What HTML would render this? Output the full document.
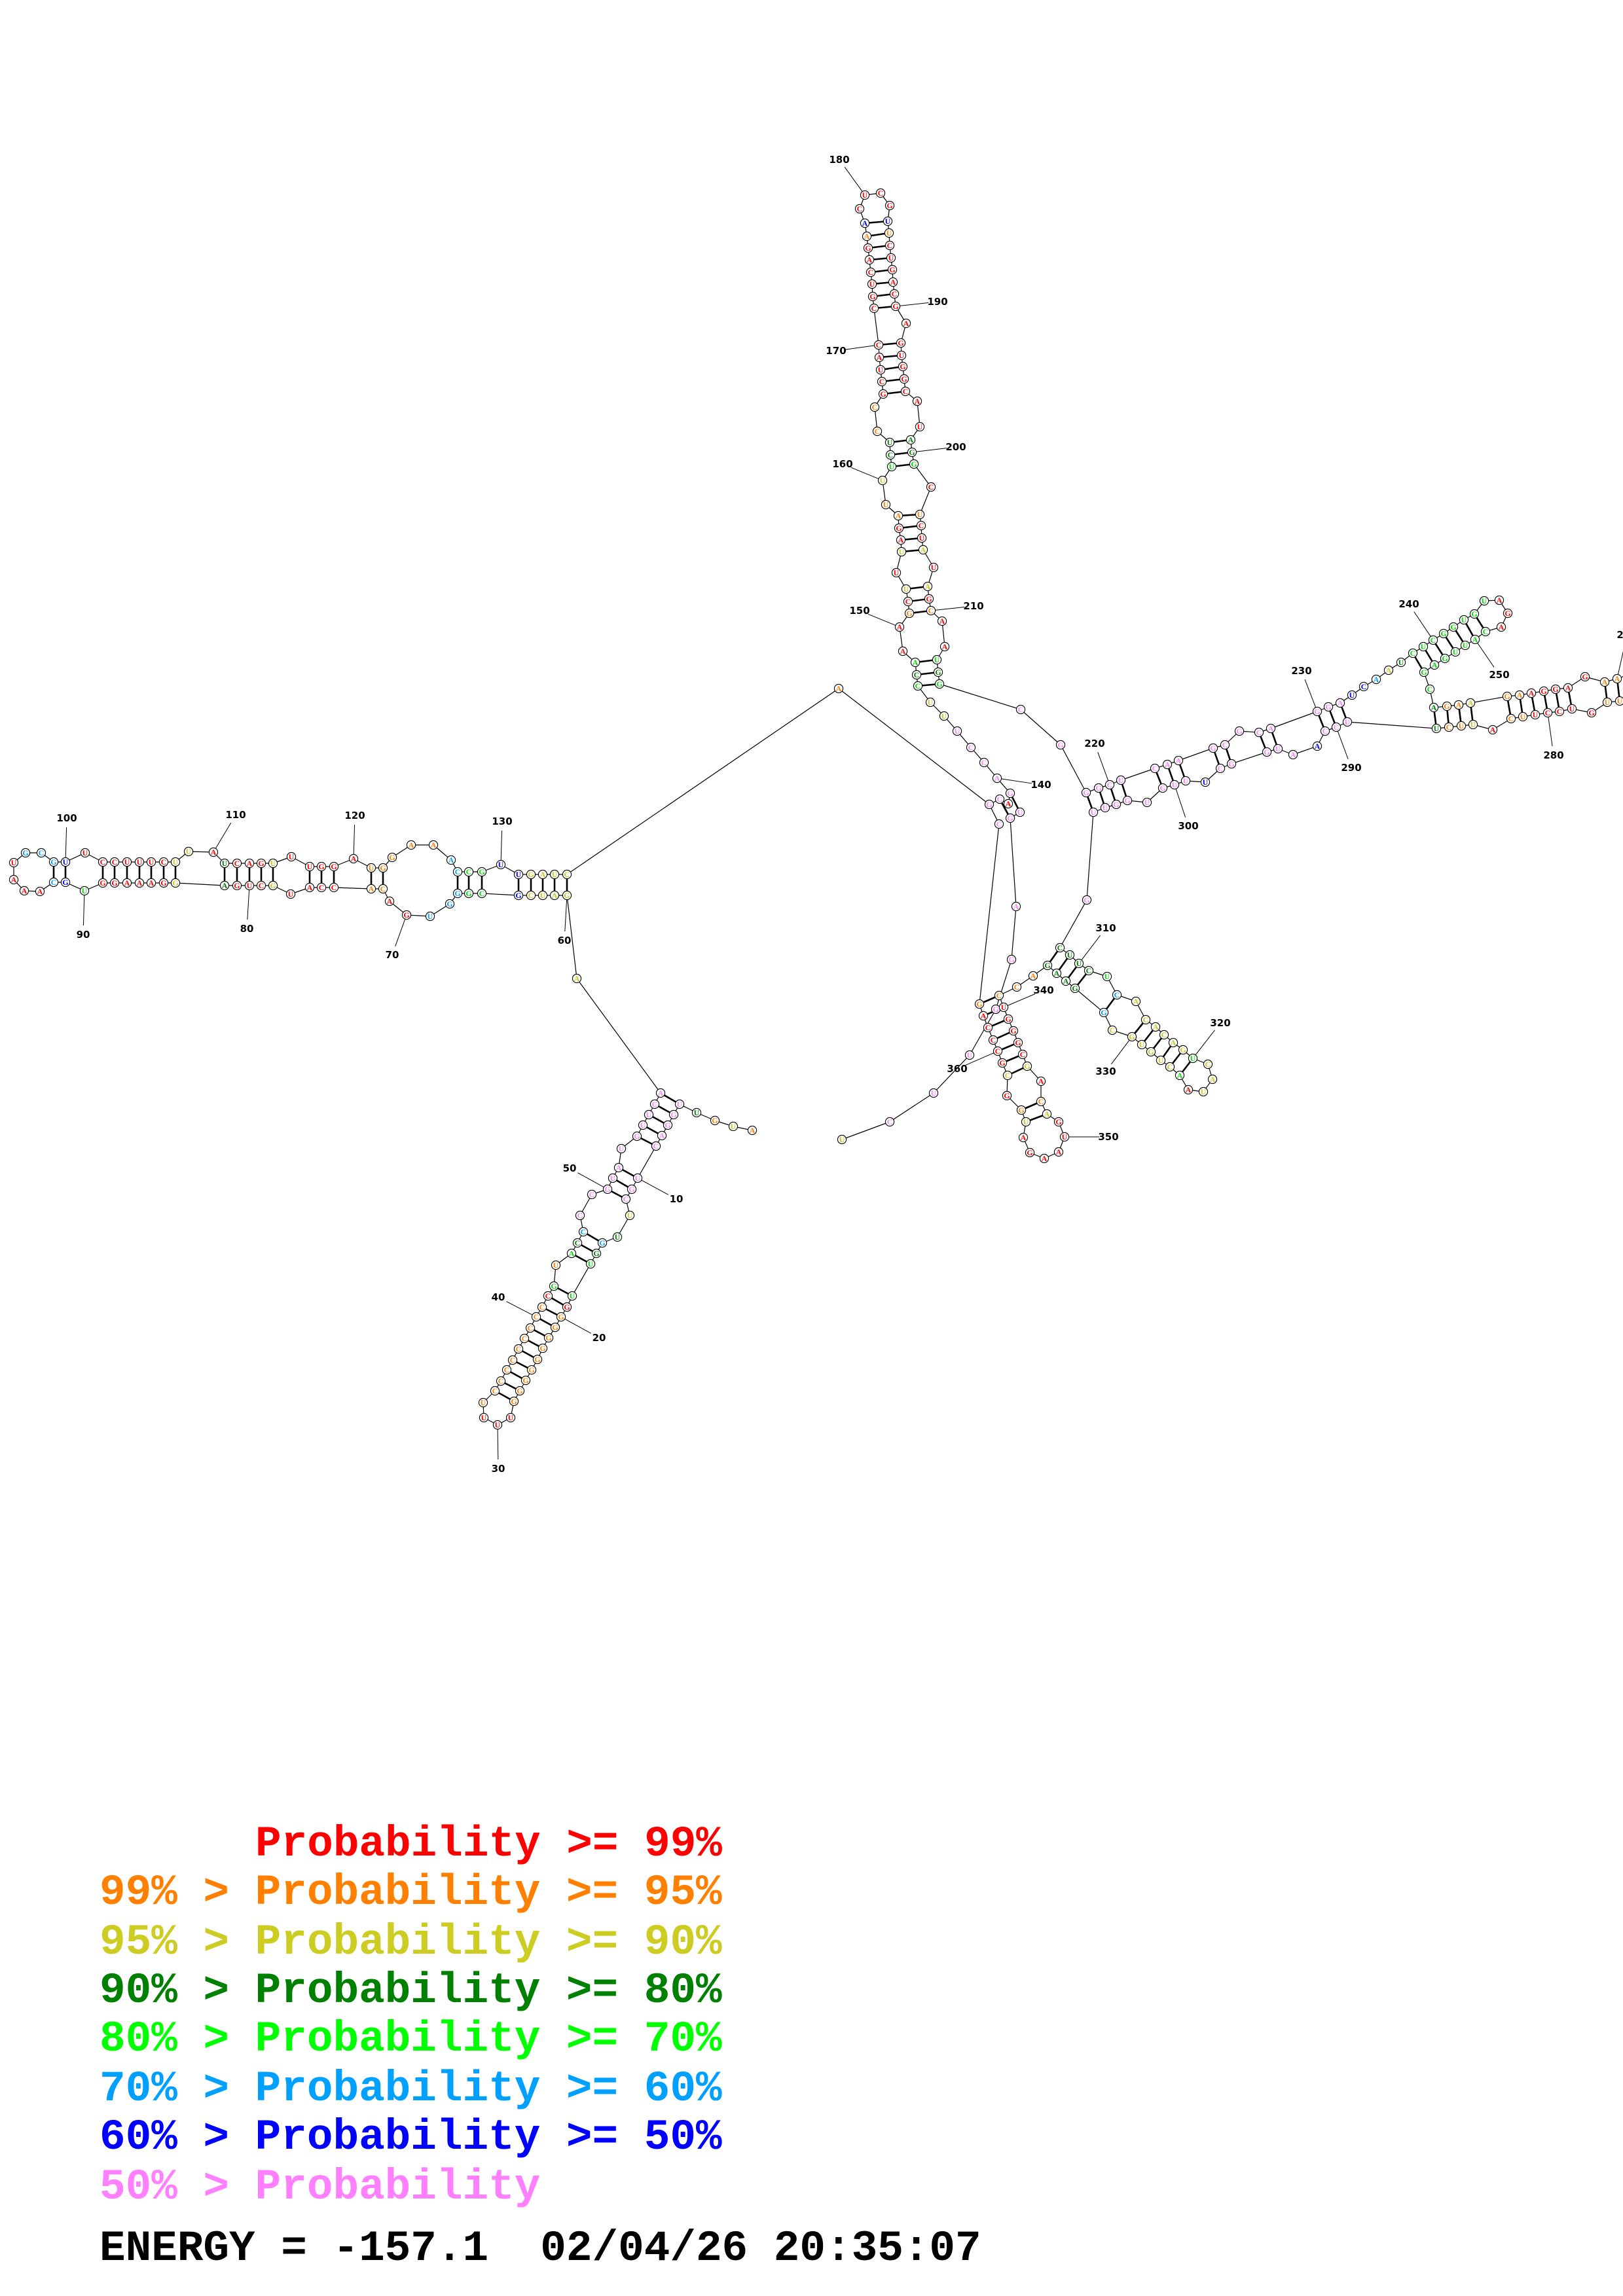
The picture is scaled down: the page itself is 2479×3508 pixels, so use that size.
<!DOCTYPE html>
<html><head><meta charset="utf-8"><style>
html,body{margin:0;padding:0;background:#fff}
svg{display:block}
</style></head><body>
<svg id="s" xmlns="http://www.w3.org/2000/svg" width="2479" height="3508" viewBox="0 0 2479 3508">
<g id="L" stroke="#000" fill="none"></g>
<g id="N"></g>
<g id="T" font-family="'DejaVu Sans','Liberation Sans',sans-serif" font-weight="bold" font-size="15" fill="#000"></g>
<g font-family="'Liberation Mono',monospace" font-weight="bold" font-size="66" style="white-space:pre">
<text x="390" y="2835" fill="#ff0000">Probability &gt;= 99%</text>
<text x="152" y="2909" fill="#ff8000">99% &gt; Probability &gt;= 95%</text>
<text x="152" y="2985" fill="#cccc22">95% &gt; Probability &gt;= 90%</text>
<text x="152" y="3059" fill="#008000">90% &gt; Probability &gt;= 80%</text>
<text x="152" y="3133" fill="#00ff00">80% &gt; Probability &gt;= 70%</text>
<text x="152" y="3209" fill="#00a0ff">70% &gt; Probability &gt;= 60%</text>
<text x="152" y="3283" fill="#0000ff">60% &gt; Probability &gt;= 50%</text>
<text x="152" y="3359" fill="#ff80ff">50% &gt; Probability</text>
<text x="152" y="3453" fill="#000">ENERGY = -157.1&#160; 02/04/26 20:35:07</text>
</g>
</svg>
<script>
(function(){
var C={r:'#ff0000',o:'#ff8000',y:'#c8c820',d:'#008000',g:'#00dd00',c:'#00a0ff',b:'#0000ff',p:'#ff80ff'};
var NS='http://www.w3.org/2000/svg';
function el(p,t,a,txt){var e=document.createElementNS(NS,t);for(var k in a)e.setAttribute(k,a[k]);if(txt!=null)e.textContent=txt;document.getElementById(p).appendChild(e);return e;}
function line(x1,y1,x2,y2,w){el('L','line',{x1:x1,y1:y1,x2:x2,y2:y2,'stroke-width':w||1.2});}
function parse(s){return s.trim().split(/\s+/).map(function(t){var a=t.split(',');return [+a[0],+a[1],a[2],a[3]];});}
var nodes=[];
function chain(s,noLines){var a=parse(s);for(var i=0;i<a.length;i++){nodes.push(a[i]);if(i>0&&!noLines)line(a[i-1][0],a[i-1][1],a[i][0],a[i][1]);}return a;}
function pairs(arr){for(var i=0;i<arr.length;i+=4)line(arr[i],arr[i+1],arr[i+2],arr[i+3],2.6);}

var tp=[[21,1318,'U','r'],[39,1303,'G','c'],[63,1303,'C','c'],[82,1317,'G','c'],[100,1317,'U','b'],[130,1303,'U','r']];
var t2='CCUUUCU',c2='rrrrrry';[157,175,194,213,231,250,268].forEach(function(x,i){tp.push([x,1317,t2[i],c2[i]]);});
tp.push([288,1301,'U','y'],[326,1302,'A','r']);
var t3='UCAGU',c3='drrry';[343,362,381,399,417].forEach(function(x,i){tp.push([x,1319,t3[i],c3[i]]);});
tp.push([445,1309,'U','r']);
[473,491,510].forEach(function(x,i){tp.push([x,1324,'UGG'[i],'r']);});
tp.push([540,1312,'A','r'],[567,1326,'U','o'],[585,1326,'G','o'],[599,1310,'G','o'],[628,1291,'A','o'],[662,1291,'A','o'],[689,1314,'A','c']);
[699,716,736].forEach(function(x,i){tp.push([x,1332,'CCG'[i],'cgg'[i]]);});
tp.push([765,1321,'U','b']);
[792,811,829,847,866].forEach(function(x,i){tp.push([x,1336,'UGAUC'[i],'byyyy'[i]]);});
var bot=[[21,1318,'U','r'],[21,1344,'A','r'],[37,1361,'A','r'],[61,1362,'A','r'],[82,1348,'C','c'],[100,1348,'G','b'],[129,1361,'U','g']];
[157,175,194,213,231,250,268].forEach(function(x,i){bot.push([x,1349,'GGAAAGG'[i],'rrrrrry'[i]]);});
var bot2=[];
[343,362,381,399,417].forEach(function(x,i){bot2.push([x,1353,'AGUCG'[i],'drrry'[i]]);});
bot2.push([444,1366,'U','r']);
[473,491,510].forEach(function(x,i){bot2.push([x,1356,'ACC'[i],'r']);});
var bot3=[[567,1358,'A','o'],[585,1358,'C','o'],[595,1377,'A','r'],[621,1398,'G','r'],[657,1400,'U','c'],[687,1381,'G','c']];
[699,716,736].forEach(function(x,i){bot3.push([x,1365,'GGC'[i],'cgg'[i]]);});
var bot4=[];
[792,811,829,847,866].forEach(function(x,i){bot4.push([x,1368,'GCUAG'[i],'byyyy'[i]]);});
function poly(a){for(var i=0;i<a.length;i++){nodes.push(a[i]);if(i>0)line(a[i-1][0],a[i-1][1],a[i][0],a[i][1]);}}
poly(tp);poly(bot);poly(bot2);poly(bot3);poly(bot4);
line(268,1349,343,1353);line(510,1356,567,1358);line(736,1365,792,1368);
[82,100,157,175,194,213,231,250,268].forEach(function(x){line(x,1317,x,x<120?1348:1349,2.6);});
[343,362,381,399,417].forEach(function(x){line(x,1319,x,1353,2.6);});
[473,491,510].forEach(function(x){line(x,1324,x,1356,2.6);});
[567,585].forEach(function(x){line(x,1326,x,1358,2.6);});
[699,716,736].forEach(function(x){line(x,1332,x,1365,2.6);});
[792,811,829,847,866].forEach(function(x){line(x,1336,x,1368,2.6);});
chain('881,1495,A,y');chain('1281,1052,A,o');
line(866,1336,1281,1052);line(866,1368,881,1495);line(881,1495,1009,1670);line(1281,1052,1511,1229);

chain('1442,1094,U,y 1421,1073,U,y 1402,1048,C,g 1400,1031,C,d 1398,1012,A,g 1379,995,A,r 1374,958,A,r 1389,937,G,o 1387,919,C,r 1384,900,U,y 1369,875,U,r 1377,843,U,y 1376,825,A,r 1373,807,G,r 1372,788,A,o 1353,771,U,o 1348,734,U,y 1362,713,U,g 1360,695,C,d 1359,676,U,d 1340,659,C,o 1336,622,C,o 1349,602,G,r 1347,583,C,r 1345,565,U,r 1343,546,A,r 1342,527,C,r 1335,471,C,r 1333,453,G,r 1332,434,U,r 1330,416,C,r 1328,397,A,r 1326,379,G,r 1324,361,A,o 1321,341,A,b 1313,319,C,r 1321,298,U,r 1345,295,C,r 1359,314,G,r 1356,338,U,b 1358,356,U,o 1359,375,C,r 1361,394,U,r 1363,412,G,r 1364,431,A,r 1366,449,C,r 1368,468,G,r 1384,494,A,r 1376,524,G,r 1377,543,U,r 1379,560,G,r 1381,579,G,r 1383,598,C,r 1401,613,A,r 1405,652,U,r 1391,672,A,d 1393,691,G,d 1396,709,G,g 1422,744,C,r 1405,786,U,o 1407,803,C,r 1408,822,U,r 1410,840,A,y 1426,867,U,r 1417,896,A,y 1419,915,G,r 1422,933,C,o 1439,949,A,r 1443,988,A,r 1431,1008,U,g 1433,1027,G,d 1435,1045,G,g 1559,1084,C,p 1620,1138,G,p');
pairs([1321,341,1356,338,1324,361,1358,356,1326,379,1359,375,1328,397,1361,394,1330,416,1363,412,1332,434,1364,431,1333,453,1366,449,1335,471,1368,468,
1342,527,1376,524,1343,546,1377,543,1345,565,1379,560,1347,583,1381,579,1349,602,1383,598,
1359,676,1391,672,1360,695,1393,691,1362,713,1396,709,
1372,788,1405,786,1373,807,1407,803,1376,825,1408,822,1377,843,1410,840,
1384,900,1417,896,1387,919,1419,915,1389,937,1422,933,
1398,1012,1431,1008,1400,1031,1433,1027,1402,1048,1435,1045]);
chain('1442,1094,U,y 1462,1117,U,p 1483,1142,C,p 1503,1165,C,p 1523,1189,A,p 1543,1212,G,p 1558,1241,U,p 1543,1250,G,p');
chain('1511,1229,G,p 1527,1221,C,p 1540,1228,A,r 1526,1259,C,p',true);
line(1511,1229,1527,1221);line(1527,1221,1540,1228);line(1540,1228,1543,1212);line(1511,1229,1526,1259);
pairs([1527,1221,1543,1250,1543,1212,1558,1241]);
chain('1543,1250,G,p 1552,1385,A,p 1545,1466,G,p 1521,1542,G,p 1481,1612,U,p 1426,1670,U,p 1359,1714,C,p 1286,1741,U,y');
line(1526,1259,1496,1534);

chain('1620,1138,G,p 1659,1211,G,p 1678,1204,G,p 1695,1199,C,p 1712,1192,U,p 1764,1174,C,p 1783,1168,A,p 1800,1162,A,p 1853,1143,G,p 1871,1138,C,p 1893,1117,G,p 1923,1119,C,p 1941,1113,A,p 2012,1087,G,p 2029,1080,G,p 2047,1074,A,p 2065,1062,U,b 2083,1049,C,b 2102,1038,A,c 2121,1024,A,y 2140,1012,U,d 2158,998,C,g 2174,988,U,g 2189,978,C,g 2205,968,G,g 2220,958,G,g 2236,947,U,g 2252,938,G,g 2267,918,U,g 2290,917,A,r 2303,937,G,r 2293,958,A,r 2269,965,C,g 2253,977,A,g 2238,986,U,g 2223,996,U,g 2207,1006,G,g 2191,1016,A,g 2175,1027,G,g 2184,1053,C,g 2190,1081,A,d 2210,1079,G,o 2228,1077,A,o 2246,1074,A,y 2302,1064,G,o 2321,1062,A,o 2339,1059,A,r 2358,1056,G,r 2376,1053,G,r 2395,1051,A,r 2421,1034,G,r 2451,1042,A,o 2470,1037,A,o 2490,1030,A,o');
chain('2490,1068,U,o 2474,1071,U,o 2455,1073,U,o 2431,1089,G,r 2401,1083,U,r 2382,1087,C,r 2364,1089,C,r 2345,1092,U,r 2326,1095,U,o 2308,1098,C,o 2280,1115,A,r 2250,1107,U,y 2232,1109,U,o 2213,1111,C,o 2194,1113,U,d 2058,1103,U,p 2041,1111,C,p 2024,1117,C,p 2012,1140,A,b 1975,1153,A,p 1952,1144,U,p 1935,1149,G,p 1881,1167,G,p 1864,1174,C,p 1841,1195,U,b 1811,1193,U,p 1794,1199,U,p 1776,1204,G,p 1752,1226,U,p 1722,1223,G,p 1705,1229,G,p 1688,1234,U,p 1670,1241,U,p 1660,1375,G,p 1619,1448,C,d 1634,1459,U,d 1648,1472,U,d 1663,1483,C,d 1691,1492,U,g 1706,1520,C,c 1735,1530,A,y 1750,1558,C,y 1765,1569,A,y 1778,1581,C,y 1792,1593,A,y 1807,1604,G,y 1822,1617,U,g 1845,1626,C,y 1852,1649,A,y 1838,1668,U,y 1815,1665,A,r 1802,1643,A,g 1787,1630,C,y 1773,1620,U,y 1758,1607,G,y 1744,1596,U,y 1729,1584,G,y 1699,1574,C,y 1686,1547,G,c 1642,1510,G,d 1628,1499,A,d 1614,1487,A,d 1600,1475,G,d 1578,1491,A,o 1553,1508,C,o 1526,1521,C,o 1533,1539,U,r 1540,1557,G,r 1548,1575,G,r 1555,1593,G,r 1562,1611,C,r 1569,1629,G,y 1590,1652,A,r 1590,1683,C,o 1599,1702,A,y 1617,1714,G,r 1626,1737,U,r 1617,1760,A,r 1595,1770,A,r 1573,1761,G,r 1563,1738,A,r 1567,1714,U,y 1560,1696,G,o 1538,1674,G,r 1539,1643,C,y 1531,1624,G,r 1524,1606,C,r 1517,1589,C,r 1509,1570,C,r 1502,1552,A,r 1496,1534,G,o');
pairs([1659,1211,1670,1241,1678,1204,1688,1234,1695,1199,1705,1229,1712,1192,1722,1223,
1764,1174,1776,1204,1783,1168,1794,1199,1800,1162,1811,1193,1853,1143,1864,1174,1871,1138,1881,1167,
1923,1119,1935,1149,1941,1113,1952,1144,2012,1087,2024,1117,2029,1080,2041,1111,2047,1074,2058,1103,
2158,998,2175,1027,2174,988,2191,1016,2189,978,2207,1006,2205,968,2223,996,2220,958,2238,986,2236,947,2253,977,2252,938,2269,965,
2190,1081,2194,1113,2210,1079,2213,1111,2228,1077,2232,1109,2246,1074,2250,1107,
2302,1064,2308,1098,2321,1062,2326,1095,2339,1059,2345,1092,2358,1056,2364,1089,2376,1053,2382,1087,2395,1051,2401,1083,2451,1042,2455,1073,2470,1037,2474,1071,
1619,1448,1600,1475,1634,1459,1614,1487,1648,1472,1628,1499,1663,1483,1642,1510,1706,1520,1686,1547,
1750,1558,1729,1584,1765,1569,1744,1596,1778,1581,1758,1607,1792,1593,1773,1620,1807,1604,1787,1630,1822,1617,1802,1643,
1496,1534,1526,1521,1502,1552,1533,1539,1509,1570,1540,1557,1517,1589,1548,1575,1524,1606,1555,1593,1531,1624,1562,1611,1539,1643,1569,1629,1590,1683,1560,1696,1599,1702,1567,1714]);

var bl='1009,1670,A,p 1000,1687,C,p 991,1703,U,p 982,1719,U,p 973,1736,G,p 949,1755,U,p 945,1784,A,p 936,1800,U,p 928,1817,G,p 904,1825,C,p 886,1857,C,p 891,1882,C,c 882,1899,C,d 873,1915,A,g 849,1933,U,o 846,1965,G,g 837,1980,C,r';
var L2=[828,819,810,801,792,783,774,765,756],Y2=[1997,2012,2029,2045,2061,2078,2093,2110,2125];
L2.forEach(function(x,i){bl+=' '+x+','+Y2[i]+',C,o';});
bl+=' 738,2143,U,o 739,2166,U,r 760,2177,U,r 780,2166,U,r';
var R2=[[785,2141],[794,2125],[803,2109],[812,2093],[821,2077],[829,2060],[838,2044],[848,2028],[857,2012]];
R2.forEach(function(p){bl+=' '+p[0]+','+p[1]+',G,o';});
bl+=' 866,1997,G,r 874,1980,U,g 902,1931,U,g 911,1915,G,d 920,1899,G,c 943,1890,U,d 962,1857,U,y 956,1832,C,p 965,1817,G,p 974,1800,U,p 1002,1751,C,p 1011,1735,A,p 1020,1719,G,p 1029,1703,G,p 1038,1687,U,p 1064,1700,U,d 1092,1712,G,o 1120,1721,U,y 1149,1727,A,o';
chain(bl);
pairs([1009,1670,1038,1687,1000,1687,1029,1703,991,1703,1020,1719,982,1719,1011,1735,973,1736,1002,1751,
945,1784,974,1800,936,1800,965,1817,928,1817,956,1832,891,1882,920,1899,882,1899,911,1915,873,1915,902,1931,
846,1965,874,1980,837,1980,866,1997]);
for(var i=0;i<9;i++)line(L2[i],Y2[i],R2[8-i][0],R2[8-i][1],2.6);

var seen={};
nodes.forEach(function(n){var k=n[0]+','+n[1];if(seen[k])return;seen[k]=1;
el('N','circle',{cx:n[0],cy:n[1],r:6.6,fill:'#fff',stroke:'#000','stroke-width':1.1});
el('N','text',{x:n[0],y:n[1]+4.2,'text-anchor':'middle','font-family':"'Liberation Serif',serif",'font-weight':'bold','font-size':12,fill:C[n[3]]},n[2]);});

var labs=[[180,1282,244,1321,298],[190,1432,461,1368,468],[170,1277,536,1342,527],[200,1460,683,1393,691],[160,1287,709,1348,734],[210,1487,926,1422,933],[150,1313,933,1374,958],[140,1590,1199,1523,1189],[220,1672,1136,1695,1199],[230,1988,1025,2012,1087],[240,2152,923,2189,978],[250,2290,1031,2253,977],[280,2373,1154,2364,1089],[290,2064,1173,2041,1111],[300,1815,1262,1794,1199],[310,1689,1418,1648,1472],[320,1864,1563,1822,1617],[330,1689,1637,1729,1584],[340,1594,1513,1533,1539],[350,1693,1737,1626,1737],[360,1462,1633,1524,1606],[100,102,1250,100,1317],[90,127,1428,129,1361],[110,360,1245,326,1302],[80,377,1419,381,1353],[120,542,1246,540,1312],[70,599,1459,621,1398],[130,767,1255,765,1321],[60,862,1437,866,1368],[50,870,1785,928,1817],[10,1033,1832,974,1800],[40,761,1982,819,2012],[20,915,2044,857,2012],[30,761,2244,760,2177],[270,2485,970,2470,1037]];
labs.forEach(function(l){var dx=l[1]-l[3],dy=l[2]-l[4],d=Math.sqrt(dx*dx+dy*dy),s=(d-14)/d;
var s0=7/d;line(l[3]+dx*s0,l[4]+dy*s0,l[3]+dx*s,l[4]+dy*s,1);
el('T','text',{x:l[1],y:l[2]+5,'text-anchor':'middle'},String(l[0]));});
})();
</script>
</body></html>
